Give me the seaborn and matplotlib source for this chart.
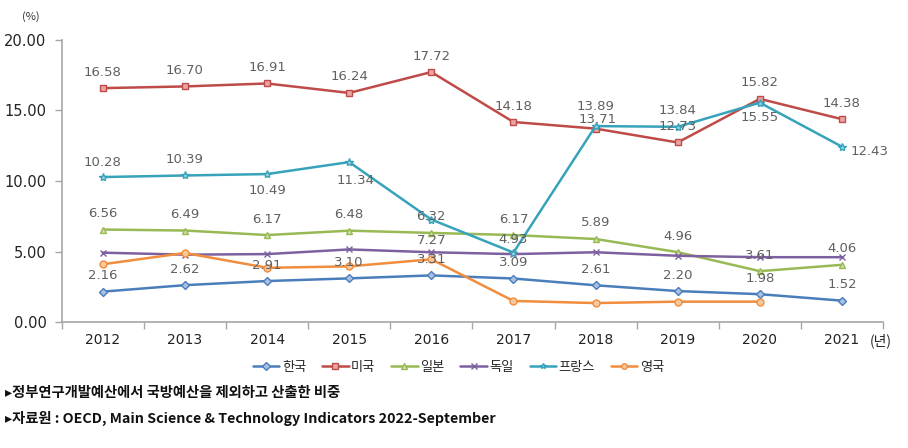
import matplotlib
matplotlib.use("Agg")
import matplotlib.pyplot as plt
import seaborn as sns
import pandas as pd
import numpy as np
from matplotlib.ticker import FixedLocator, FormatStrFormatter
from matplotlib.lines import Line2D

years = [2012, 2013, 2014, 2015, 2016, 2017, 2018, 2019, 2020, 2021]
countries = ["한국", "미국", "일본", "독일", "프랑스", "영국"]

korea = [2.16, 2.62, 2.91, 3.10, 3.31, 3.09, 2.61, 2.20, 1.98, 1.52]
usa = [16.58, 16.70, 16.91, 16.24, 17.72, 14.18, 13.71, 12.73, 15.82, 14.38]
japan = [6.56, 6.49, 6.17, 6.48, 6.32, 6.17, 5.89, 4.96, 3.61, 4.06]
germany = [4.92, 4.78, 4.82, 5.15, 4.95, 4.82, 4.95, 4.70, 4.60, 4.60]
france = [10.28, 10.39, 10.49, 11.34, 7.27, 4.93, 13.89, 13.84, 15.55, 12.43]
uk = [4.10, 4.90, 3.85, 3.95, 4.45, 1.50, 1.35, 1.45, 1.45, np.nan]

labels_shown = {"한국": korea, "미국": usa, "일본": japan, "프랑스": france}

series = {"한국": korea, "미국": usa, "일본": japan, "독일": germany, "프랑스": france, "영국": uk}
rows = []
for c in countries:
    for y, v in zip(years, series[c]):
        rows.append({"year": y, "value": v, "country": c})
df = pd.DataFrame(rows).dropna()

palette = {"한국": "#4A7EBB", "미국": "#BE4B48", "일본": "#98B954",
           "독일": "#7D60A0", "프랑스": "#37A3BA", "영국": "#F08D3E"}
markers = {"한국": "D", "미국": "s", "일본": "^", "독일": "x", "프랑스": "*", "영국": "o"}
msizes = {"한국": 4, "미국": 5, "일본": 5, "독일": 5, "프랑스": 6, "영국": 5}
mfaces = {"한국": "#A9C0E0", "미국": "#E8A5A3", "일본": "#CDE0A6",
          "독일": "#7D60A0", "프랑스": "#9AD3E2", "영국": "#F9C89C"}

sns.set_theme(style="white")
plt.rcParams["font.family"] = ["Noto Sans CJK KR", "DejaVu Sans"]

fig = plt.figure(figsize=(9.08, 4.48), dpi=100)
ax = fig.add_axes([0.068, 0.281, 0.9045, 0.630])

for c in countries:
    sub = df[df["country"] == c]
    sns.lineplot(data=sub, x="year", y="value", color=palette[c], marker=markers[c],
                 markersize=msizes[c], markerfacecolor=mfaces[c], markeredgecolor=palette[c],
                 markeredgewidth=1.0, linewidth=1.8, ax=ax, legend=False)

# value labels
offsets = {c: [(0, 16)] * len(years) for c in labels_shown}
offsets["프랑스"] = [(0, 15), (0, 16), (0, -16), (6, -18), (0, -21),
                   (0, 13), (0, 20), (0, 16), (0, -15), (28, -5)]
offsets["미국"] = list(offsets["미국"])
offsets["미국"][6] = (2, 9)
for c, vals in labels_shown.items():
    for i, (y, v) in enumerate(zip(years, vals)):
        dx, dy = offsets[c][i]
        ax.annotate(f"{v:.2f}", (y, v), xytext=(dx, dy), textcoords="offset pixels",
                    ha="center", va="center", fontsize=9.5, color="#606060",
                    family=["DejaVu Sans"])

ax.set_xlim(2011.5, 2021.5)
ax.set_ylim(0, 20)
ax.set_xticks(years)
ax.set_xticklabels([str(y) for y in years])
ax.xaxis.set_minor_locator(FixedLocator(np.arange(2011.5, 2022, 1.0)))
ax.set_yticks([0, 5, 10, 15, 20])
ax.yaxis.set_major_formatter(FormatStrFormatter("%.2f"))
ax.tick_params(axis="x", which="major", length=0, pad=8, labelsize=10, colors="#222222")
ax.tick_params(axis="x", which="minor", length=5, width=1, color="#A6A6A6", direction="out", bottom=True)
ax.tick_params(axis="y", which="major", length=5, width=1, color="#A6A6A6", direction="out", left=True,
               labelsize=10.5, colors="#222222", pad=6)
for lab in ax.get_xticklabels() + ax.get_yticklabels():
    lab.set_family(["DejaVu Sans"])
    lab.set_color("#222222")
ax.set_xlabel("")
ax.set_ylabel("")
for s in ["top", "right"]:
    ax.spines[s].set_visible(False)
for s in ["left", "bottom"]:
    ax.spines[s].set_color("#A6A6A6")
    ax.spines[s].set_linewidth(1.2)

fig.text(31 / 908, 1 - 17 / 448, "(%)", ha="center", va="center", fontsize=8, color="#333333")
fig.text(870 / 908, 1 - 341 / 448, "(년)", ha="left", va="center", fontsize=10, color="#222222")

handles = [Line2D([0], [0], color=palette[c], marker=markers[c], markersize=4, linewidth=1.8,
                  markerfacecolor=mfaces[c], markeredgecolor=palette[c])
           for c in countries]
fig.legend(handles, countries, loc="center", bbox_to_anchor=(0.505, 1 - 367 / 448), ncol=6,
           frameon=False, fontsize=9.5, handlelength=2.0, handletextpad=0.2, columnspacing=1.2)

fig.text(5 / 908, 1 - 393 / 448, "▸정부연구개발예산에서 국방예산을 제외하고 산출한 비중",
         ha="left", va="center", fontsize=10.3, color="#111111", fontweight="bold",
         family=["Noto Sans CJK KR", "DejaVu Sans"])
fig.text(5 / 908, 1 - 418 / 448, "▸자료원 : OECD, Main Science & Technology Indicators 2022-September",
         ha="left", va="center", fontsize=10.3, color="#111111", fontweight="bold",
         family=["Noto Sans CJK KR", "DejaVu Sans"])

fig.savefig("out.png", dpi=100)
